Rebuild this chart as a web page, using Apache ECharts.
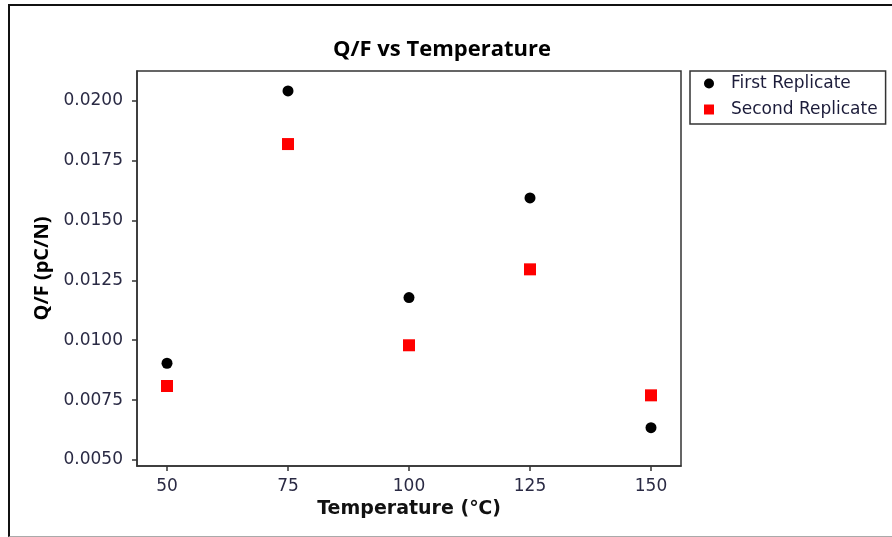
<!DOCTYPE html>
<html>
<head>
<meta charset="utf-8">
<script src="https://cdn.jsdelivr.net/npm/echarts@6/dist/echarts.min.js"></script>
<style>
  html, body { margin: 0; padding: 0; background: #fff; }
  #wrap { position: relative; width: 892px; height: 537px; }
  #chart { position: absolute; left: 0; top: 0; width: 892px; height: 537px; }
  /* outer frame of the exported picture */
  #frame {
    position: absolute; left: 8px; top: 4px; width: 890px; height: 530px;
    border-left: 2px solid #111; border-top: 2px solid #111; border-bottom: 1px solid #aaa;
    pointer-events: none;
  }
</style>
</head>
<body>
<div id="wrap">
  <div id="chart"></div>
  <div id="frame"></div>
</div>
<script>
// data
var temps = [50, 75, 100, 125, 150];
var firstRep = [0.00904, 0.02041, 0.01178, 0.01594, 0.00635];
var secondRep = [0.00809, 0.01819, 0.00979, 0.01296, 0.00770];
var xTicks = [50, 75, 100, 125, 150];
var yTicks = [0.0050, 0.0075, 0.0100, 0.0125, 0.0150, 0.0175, 0.0200];

function pairs(xs, ys) {
  return xs.map(function (x, i) { return [x, ys[i]]; });
}

var chart = echarts.init(document.getElementById('chart'));

var option = {
  backgroundColor: '#fff',
  animation: false,
  title: {
    text: 'Q/F vs Temperature',
    left: 437,
    textAlign: 'center',
    top: 34,
    textStyle: { fontFamily: 'Open Sans', fontWeight: 'bold', fontSize: 22, color: '#000' }
  },
  legend: {
    orient: 'vertical',
    left: 690,
    top: 71,
    padding: [4, 8, 6, 14],
    itemGap: 9,
    itemWidth: 10,
    itemHeight: 10,
    borderColor: '#333',
    borderWidth: 1.5,
    textStyle: { fontFamily: 'DejaVu Sans', fontSize: 17, color: '#1c1c3a', padding: [0, 0, 0, 12], lineHeight: 17 },
    data: [
      { name: 'First Replicate', icon: 'circle' },
      { name: 'Second Replicate', icon: 'rect' }
    ]
  },
  grid: {
    left: 137, top: 71, right: 211, bottom: 71,
    show: true, borderColor: '#333', borderWidth: 1.5
  },
  xAxis: {
    type: 'value',
    min: 43.8,
    max: 156.2,
    name: 'Temperature (℃)',
    nameLocation: 'middle',
    nameGap: 33,
    nameTextStyle: { fontFamily: 'DejaVu Sans', fontWeight: 'bold', fontSize: 19, color: '#111' },
    splitLine: { show: false },
    axisLine: { lineStyle: { color: '#333', width: 1.5 } },
    axisTick: { customValues: xTicks, length: 5, lineStyle: { color: '#333', width: 1.5 } },
    axisLabel: {
      customValues: xTicks, margin: 12,
      fontFamily: 'DejaVu Sans', fontSize: 17, color: '#2a2a44'
    }
  },
  yAxis: {
    type: 'value',
    min: 0.00475,
    max: 0.02124,
    name: 'Q/F (pC/N)',
    nameLocation: 'middle',
    nameGap: 84,
    nameTextStyle: { fontFamily: 'Open Sans', fontWeight: 'bold', fontSize: 20, color: '#000' },
    splitLine: { show: false },
    axisLine: { show: true, lineStyle: { color: '#333', width: 1.5 } },
    axisTick: { show: true, customValues: yTicks, length: 5, lineStyle: { color: '#333', width: 1.5 } },
    axisLabel: {
      customValues: yTicks, margin: 14,
      fontFamily: 'DejaVu Sans', fontSize: 17, color: '#2a2a44',
      formatter: function (v) { return v.toFixed(4); }
    }
  },
  series: [
    {
      name: 'First Replicate',
      type: 'scatter',
      symbol: 'circle',
      symbolSize: 11,
      itemStyle: { color: '#000', opacity: 1 },
      data: pairs(temps, firstRep)
    },
    {
      name: 'Second Replicate',
      type: 'scatter',
      symbol: 'rect',
      symbolSize: 12,
      itemStyle: { color: '#ff0000', opacity: 1 },
      data: pairs(temps, secondRep)
    }
  ]
};

chart.setOption(option);
</script>
</body>
</html>
